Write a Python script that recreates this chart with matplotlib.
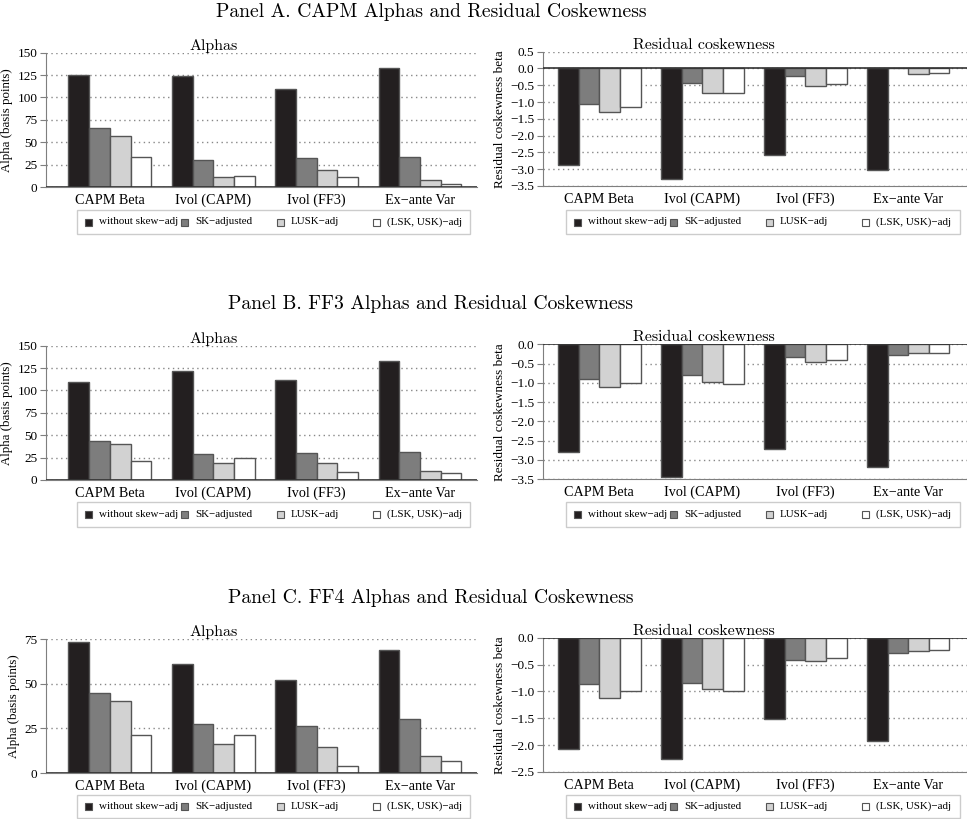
import numpy as np
import matplotlib
matplotlib.use("Agg")
import matplotlib.pyplot as plt
from matplotlib.patches import Rectangle

plt.rcParams['font.family'] = ['Liberation Serif', 'DejaVu Serif']
plt.rcParams['axes.unicode_minus'] = True

portfolios = ['CAPM Beta', 'Ivol (CAPM)', 'Ivol (FF3)', 'Ex\u2212ante Var']
methods = ['without skew\u2212adj', 'SK\u2212adjusted', 'LUSK\u2212adj', '(LSK, USK)\u2212adj']

# alphas in basis points, one list per method (rows) over the four portfolios
alpha_capm = [[125.4, 123.9, 109.0, 133.2],
              [66.2, 30.5, 32.4, 33.9],
              [56.6, 11.5, 19.0, 7.4],
              [33.1, 12.3, 11.2, 3.7]]
alpha_ff3 = [[109.5, 121.8, 112.1, 132.6],
             [43.4, 28.6, 30.1, 31.2],
             [40.5, 18.9, 19.3, 10.0],
             [21.2, 24.1, 8.9, 7.8]]
alpha_ff4 = [[73.5, 60.8, 52.2, 68.6],
             [44.9, 27.3, 26.2, 30.1],
             [40.2, 16.1, 14.4, 9.5],
             [21.1, 21.1, 3.7, 6.9]]

# residual coskewness betas
cosk_capm = [[-2.86, -3.29, -2.57, -3.01],
             [-1.07, -0.43, -0.23, 0.02],
             [-1.29, -0.73, -0.51, -0.15],
             [-1.16, -0.73, -0.46, -0.13]]
cosk_ff3 = [[-2.79, -3.46, -2.72, -3.20],
            [-0.89, -0.81, -0.34, -0.27],
            [-1.12, -0.99, -0.47, -0.23],
            [-1.00, -1.02, -0.40, -0.22]]
cosk_ff4 = [[-2.07, -2.25, -1.51, -1.92],
            [-0.87, -0.84, -0.41, -0.29],
            [-1.12, -0.96, -0.43, -0.24],
            [-1.00, -1.00, -0.37, -0.22]]

panel_titles = ['Panel A. CAPM Alphas and Residual Coskewness',
                'Panel B. FF3 Alphas and Residual Coskewness',
                'Panel C. FF4 Alphas and Residual Coskewness']

fills = ['#231f20', '#7d7d7d', '#d2d2d2', '#ffffff']
edge = '#555555'
spine_col = '#7f7f7f'
W, H = 967, 819

fig = plt.figure(figsize=(W / 100, H / 100), dpi=100)


def px_axes(x0, x1, y0, y1):
    return fig.add_axes([x0 / W, 1 - y1 / H, (x1 - x0) / W, (y1 - y0) / H])


def draw_bars(ax, data):
    x = np.arange(len(portfolios))
    w = 0.2
    for i, vals in enumerate(data):
        ax.bar(x + (i - 1.5) * w, vals, w, color=fills[i], edgecolor=edge,
               linewidth=1.0, zorder=3)
    ax.set_xticks(x)
    ax.set_xticklabels(portfolios, fontsize=10.2)
    ax.tick_params(axis='x', length=0, pad=5)
    ax.tick_params(axis='y', direction='out', length=4, color=spine_col,
                   labelsize=9.5, pad=2)
    for s in ['top', 'right']:
        ax.spines[s].set_visible(False)
    ax.spines['left'].set_color(spine_col)
    ax.spines['bottom'].set_color(spine_col)
    ax.grid(axis='y', linestyle=(0, (1, 2.5)), color='#888888', linewidth=1.0, zorder=0)
    ax.axhline(0, color='#333333', linewidth=1.2, zorder=4)


# pgfplots-style legend: fixed-width cells inside a thin grey box
def draw_legend(x0, x1, y0, y1):
    fig.add_artist(Rectangle((x0 / W, 1 - y1 / H), (x1 - x0) / W, (y1 - y0) / H,
                             transform=fig.transFigure, facecolor='white',
                             edgecolor='#cccccc', linewidth=1.0))
    yc = (y0 + y1) / 2
    sq = 7
    for i, name in enumerate(methods):
        hx = x0 + 8 + 96 * i
        fig.add_artist(Rectangle((hx / W, 1 - (yc + sq / 2) / H), sq / W, sq / H,
                                 transform=fig.transFigure, facecolor=fills[i],
                                 edgecolor=edge, linewidth=0.8))
        fig.text((hx + 14) / W, 1 - yc / H, name, ha='left', va='center',
                 fontsize=7.9)


# panel layout in pixels: (title y, left axes, right axes, legend y range)
layout = [
    (12, (45.7, 477, 52.7, 187), (542.7, 967, 51.7, 186), (210, 234)),
    (304, (45.7, 477, 345.7, 480), (542.7, 967, 344.3, 479), (502, 527)),
    (598, (45.7, 477, 639, 773), (542.7, 967, 637.7, 772), (795, 818)),
]
alpha_sets = [alpha_capm, alpha_ff3, alpha_ff4]
cosk_sets = [cosk_capm, cosk_ff3, cosk_ff4]
alpha_ticks = [np.arange(0, 151, 25), np.arange(0, 151, 25), np.arange(0, 76, 25)]
cosk_ticks = [np.arange(-3.5, 0.51, 0.5), np.arange(-3.5, 0.01, 0.5), np.arange(-2.5, 0.01, 0.5)]

for p in range(3):
    ty, lbox, rbox, (ly0, ly1) = layout[p]
    fig.text(431 / W, 1 - ty / H, panel_titles[p], ha='center', va='center',
             fontsize=14.1, family=['cmr10', 'DejaVu Serif'])

    ax = px_axes(*lbox)
    draw_bars(ax, alpha_sets[p])
    ax.set_xlim(-0.62, 3.55)
    ax.set_ylim(alpha_ticks[p][0], alpha_ticks[p][-1])
    ax.set_yticks(alpha_ticks[p])
    ax.set_ylabel('Alpha (basis points)', fontsize=9.3, labelpad=3)
    ax.text(0.39, 1.0, 'Alphas', transform=ax.transAxes, ha='center', va='bottom',
            fontsize=11.5, family=['cmr10', 'DejaVu Serif'])

    ax = px_axes(*rbox)
    draw_bars(ax, cosk_sets[p])
    ax.set_xlim(-0.55, 3.57)
    ax.set_ylim(cosk_ticks[p][0], cosk_ticks[p][-1])
    ax.set_yticks(cosk_ticks[p])
    ax.set_yticklabels([('%.1f' % v).replace('-', '\u2212') if abs(v) > 1e-9 else '0.0'
                        for v in cosk_ticks[p]])
    ax.set_ylabel('Residual coskewness beta', fontsize=9.5, labelpad=3)
    ax.text(0.38, 1.0, 'Residual coskewness', transform=ax.transAxes, ha='center',
            va='bottom', fontsize=11.5, family=['cmr10', 'DejaVu Serif'])

    draw_legend(77, 470, ly0, ly1)
    draw_legend(566, 960, ly0, ly1)

fig.savefig('out.png', dpi=100)
